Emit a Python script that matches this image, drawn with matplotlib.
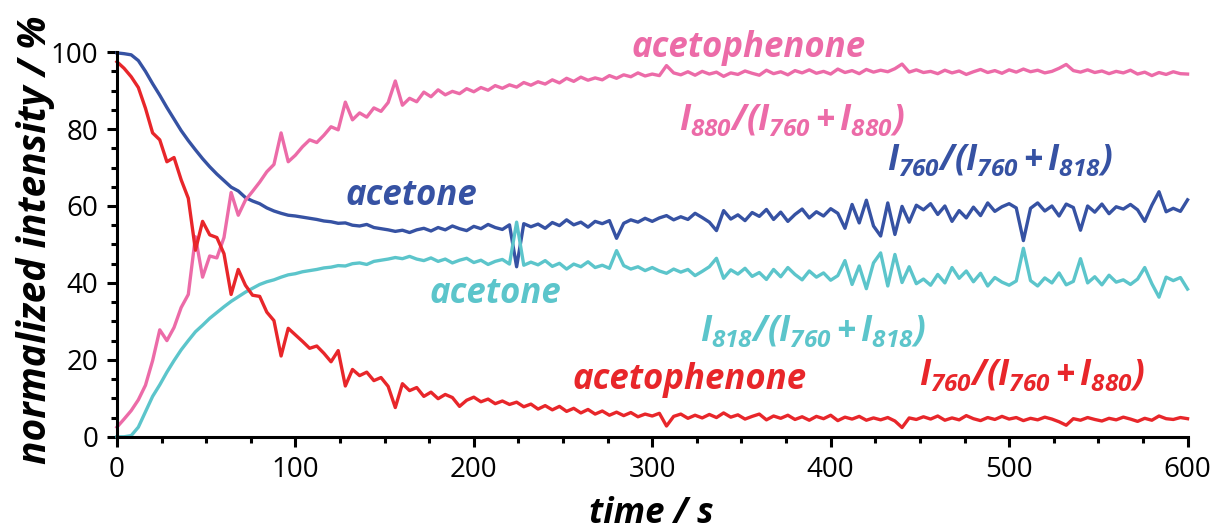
import numpy as np
import matplotlib
matplotlib.use("Agg")
import matplotlib.pyplot as plt
from matplotlib.ticker import MultipleLocator

plt.rcParams['font.family'] = ['Open Sans', 'DejaVu Sans']
plt.rcParams['mathtext.fontset'] = 'custom'
plt.rcParams['mathtext.rm'] = 'Open Sans:italic:bold'
plt.rcParams['mathtext.it'] = 'Open Sans:italic:bold'

# time axis, one reading every 4 s
time_s = np.arange(0, 601, 4)

# I818/(I760+I818)  (acetone, cyan)
acetone_818 = [
    0.0, 0.0, 0.3, 2.5, 6.5, 10.5, 13.5, 16.8, 19.8, 22.6,
    25.0, 27.3, 29.0, 30.8, 32.3, 33.8, 35.2, 36.4, 37.6, 38.6,
    39.6, 40.3, 40.8, 41.5, 42.1, 42.4, 42.9, 43.2, 43.5, 43.9,
    44.1, 44.5, 44.4, 45.0, 45.2, 44.8, 45.6, 45.9, 46.2, 46.6,
    46.3, 46.9, 46.2, 45.8, 46.5, 45.6, 46.2, 45.2, 45.9, 46.4,
    45.3, 45.9, 44.8, 45.6, 46.1, 44.9, 55.8, 44.6, 45.4, 44.7,
    45.8, 44.3, 45.1, 43.6, 44.9, 44.2, 45.5, 44.0, 44.6, 43.8,
    48.4, 44.5, 43.6, 44.2, 43.2, 44.0, 43.1, 42.5, 43.6, 42.8,
    43.5, 41.9, 43.0, 44.2, 46.4, 41.2, 43.4, 42.3, 43.8, 41.7,
    42.7, 40.9, 43.5, 41.6, 44.0, 42.2, 40.8, 43.1, 41.5, 42.6,
    40.7, 41.9, 45.8, 39.6, 44.4, 38.5, 45.2, 47.8, 39.2, 47.4,
    40.1, 44.2, 39.8, 41.0, 39.4, 42.2, 40.0, 44.0, 41.2, 43.1,
    40.3, 42.5, 39.2, 41.4, 40.2, 39.4, 40.5, 49.0, 40.6, 39.2,
    41.3, 40.0, 42.6, 39.5, 40.4, 46.3, 40.0, 41.6, 39.5, 42.0,
    40.2, 40.8, 39.6, 41.0, 44.0, 39.8, 36.3, 41.5, 40.6, 41.4,
    38.4,
]

# I760/(I760+I818)  (acetone, dark blue)
acetone_760 = [
    99.8, 99.6, 99.3, 97.8, 95.0, 91.8, 88.8, 85.6, 82.6, 79.6,
    77.0, 74.6, 72.3, 70.2, 68.3, 66.6, 64.9, 63.9, 62.2, 61.3,
    60.6, 59.5, 58.7, 58.1, 57.6, 57.4, 57.1, 56.8, 56.5, 56.1,
    55.9, 55.5, 55.6, 55.0, 54.8, 55.2, 54.4, 54.1, 53.8, 53.4,
    53.7, 53.1, 53.8, 54.2, 53.5, 54.4, 53.8, 54.8, 54.1, 53.6,
    54.7, 54.1, 55.2, 54.4, 53.9, 55.1, 44.2, 55.4, 54.6, 55.3,
    54.2, 55.7, 54.9, 56.4, 55.1, 55.8, 54.5, 56.0, 55.4, 56.2,
    51.6, 55.5, 56.4, 55.8, 56.8, 56.0, 56.9, 57.5, 56.4, 57.2,
    56.5, 58.1, 57.0, 55.8, 53.6, 58.8, 56.6, 57.7, 56.2, 58.3,
    57.3, 59.1, 56.5, 58.4, 56.0, 57.8, 59.2, 56.9, 58.5, 57.4,
    59.3, 58.1, 54.2, 60.4, 55.6, 61.5, 54.8, 52.2, 60.8, 52.6,
    59.9, 55.8, 60.2, 59.0, 60.6, 57.8, 60.0, 56.0, 58.8, 56.9,
    59.7, 57.5, 60.8, 58.6, 59.8, 60.6, 59.5, 51.0, 59.4, 60.8,
    58.7, 60.0, 57.4, 60.5, 59.6, 53.7, 60.0, 58.4, 60.5, 58.0,
    59.8, 59.2, 60.4, 59.0, 56.0, 60.2, 63.7, 58.5, 59.4, 58.6,
    61.6,
]

# I880/(I760+I880)  (acetophenone, pink)
acetophenone_880 = [
    2.5, 4.6, 6.8, 9.6, 13.4, 19.8, 27.8, 25.0, 28.4, 33.6,
    37.0, 52.0, 41.5, 47.0, 46.5, 51.8, 63.5, 57.6, 61.5, 63.8,
    66.2, 68.9, 70.8, 79.0, 71.5, 73.2, 75.4, 77.2, 76.5, 78.4,
    80.6, 79.8, 87.0, 82.4, 84.2, 83.1, 85.5, 84.6, 86.9, 92.5,
    86.2, 88.0, 87.1, 89.6, 88.4, 90.2, 88.9, 89.8, 89.2, 90.5,
    89.7, 90.8, 90.1, 91.3, 90.6, 91.5, 90.9, 92.1, 91.4, 92.3,
    91.7, 92.8, 92.0, 93.2, 92.4, 93.5, 92.7, 93.3, 92.8, 93.9,
    93.2, 94.1, 93.6, 94.6, 93.8, 94.3, 93.9, 96.5, 94.6, 94.1,
    94.9, 94.0, 95.0, 94.3, 94.8, 93.7, 94.6, 94.2, 95.1, 94.5,
    94.0, 95.3, 94.4, 94.9, 94.1, 95.2, 94.6, 95.4, 94.5, 95.0,
    94.3, 95.6, 94.7, 95.2, 94.4, 95.5, 94.8, 95.3, 94.9, 95.7,
    96.9, 94.8, 95.4, 94.7, 95.0, 94.4, 95.3, 94.6, 95.1, 94.2,
    94.9, 95.5, 94.7, 95.2, 94.5, 95.4, 94.8, 95.6, 94.9, 95.3,
    94.6, 95.0, 95.8, 96.8, 95.2, 94.8, 95.4, 94.7, 95.1, 94.4,
    95.0, 94.6, 95.3, 94.3, 94.8, 93.9, 94.7, 94.2, 94.9, 94.4,
    94.3,
]

# I760/(I760+I880)  (acetophenone, red)
acetophenone_760 = [
    97.5, 95.8, 93.6, 90.8, 85.4, 79.0, 77.2, 71.5, 72.6, 66.8,
    62.0, 48.5, 56.0, 52.5, 51.8, 47.6, 37.0, 43.5, 39.4, 36.8,
    36.5, 32.4, 30.2, 21.0, 28.2, 26.5, 24.8, 23.0, 23.6, 21.7,
    19.5, 22.4, 13.2, 17.5, 15.9, 16.8, 14.6, 15.4, 13.1, 7.6,
    13.8, 12.0, 12.8, 10.5, 11.6, 9.9, 11.0, 10.2, 7.9, 9.5,
    10.3, 9.1, 9.8, 8.6, 9.3, 8.4, 9.0, 7.8, 8.5, 7.2,
    8.1, 7.0, 7.9, 6.6, 7.4, 6.2, 7.1, 5.9, 6.7, 5.6,
    6.4, 5.5, 6.3, 5.2, 5.9, 5.4, 6.1, 2.8, 5.3, 5.9,
    4.8, 5.6, 4.9, 5.8, 5.0, 6.2, 5.1, 5.7, 4.6, 5.3,
    5.9, 4.4, 5.4, 4.8, 5.6, 4.5, 5.2, 4.3, 5.3, 4.7,
    5.6, 4.2, 5.1, 4.6, 5.3, 4.3, 4.9, 4.4, 5.0, 4.1,
    2.4, 4.9, 4.5, 5.2, 4.6, 5.4, 4.3, 4.9, 4.4, 5.5,
    4.7, 4.2, 5.0, 4.5, 5.3, 4.6, 5.0, 4.2, 4.8, 4.4,
    5.1, 4.6, 3.9, 3.0, 4.7, 4.3, 5.0, 4.5, 4.1, 4.8,
    4.4, 5.1, 4.6, 4.0, 4.8, 4.3, 5.4, 4.7, 4.5, 5.0,
    4.7,
]

PINK = '#EC6BA8'
BLUE = '#3652A3'
CYAN = '#5CC5CB'
RED = '#E8262A'

fig = plt.figure(figsize=(12.18, 5.32), dpi=100)
ax = fig.add_axes([0.096, 0.179, 0.879, 0.723])

lw = 2.4
ax.plot(time_s, acetone_760, color=BLUE, lw=lw, clip_on=False)
ax.plot(time_s, acetophenone_880, color=PINK, lw=lw, clip_on=False)
ax.plot(time_s, acetone_818, color=CYAN, lw=lw, clip_on=False)
ax.plot(time_s, acetophenone_760, color=RED, lw=lw, clip_on=False)

ax.set_xlim(0, 600)
ax.set_ylim(0, 100)
ax.xaxis.set_major_locator(MultipleLocator(100))
ax.xaxis.set_minor_locator(MultipleLocator(25))
ax.yaxis.set_major_locator(MultipleLocator(20))
ax.yaxis.set_minor_locator(MultipleLocator(5))

for s in ['top', 'right']:
    ax.spines[s].set_visible(False)
for s in ['left', 'bottom']:
    ax.spines[s].set_linewidth(2.2)
ax.tick_params(which='major', length=7.5, width=2.2, labelsize=20, pad=6)
ax.tick_params(which='minor', length=4.5, width=2.2)

fig.text(0.535, 0.034, 'time / s', ha='center', va='center',
         fontsize=25, fontweight='bold', style='italic')
fig.text(0.029, 0.55, 'normalized intensity / %', ha='center', va='center',
         rotation=90, fontsize=28, fontweight='bold', style='italic')

lab = dict(ha='center', va='center', fontsize=25, fontweight='bold',
           style='italic', clip_on=False)
ax.text(354, 101, 'acetophenone', color=PINK, **lab)
ax.text(378, 82.0, r'$I_{880}/(I_{760}\,{+}\,I_{880})$', color=PINK, **lab)
ax.text(495, 71.7, r'$I_{760}/(I_{760}\,{+}\,I_{818})$', color=BLUE, **lab)
ax.text(165, 62.6, 'acetone', color=BLUE, **lab)
ax.text(212, 37.0, 'acetone', color=CYAN, **lab)
ax.text(390, 27.3, r'$I_{818}/(I_{760}\,{+}\,I_{818})$', color=CYAN, **lab)
ax.text(321, 14.8, 'acetophenone', color=RED, **lab)
ax.text(513, 15.8, r'$I_{760}/(I_{760}\,{+}\,I_{880})$', color=RED, **lab)

fig.savefig('out.png', dpi=100)
